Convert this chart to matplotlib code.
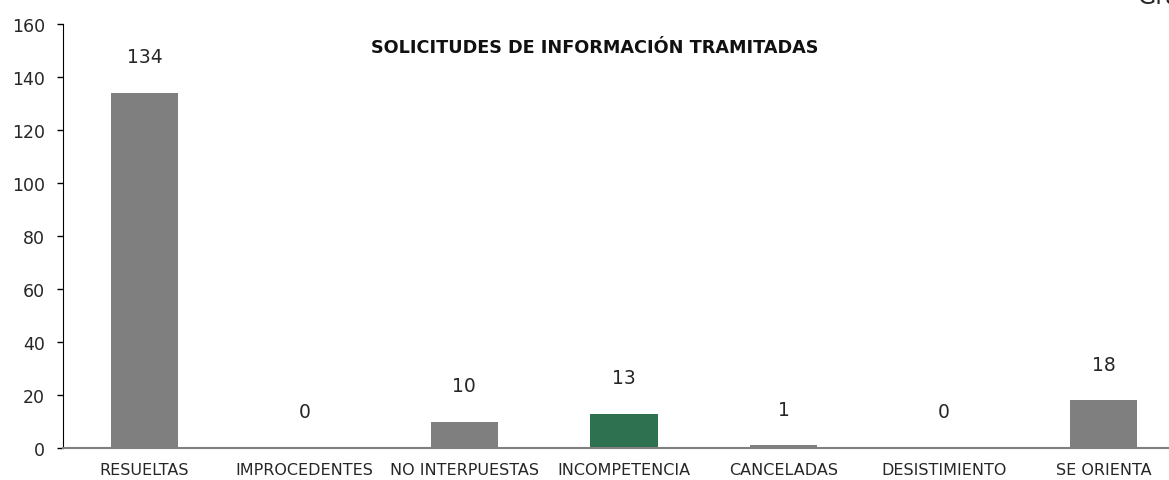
import matplotlib
matplotlib.use("Agg")
import matplotlib.pyplot as plt

categories = ["RESUELTAS", "IMPROCEDENTES", "NO INTERPUESTAS", "INCOMPETENCIA",
              "CANCELADAS", "DESISTIMIENTO", "SE ORIENTA"]
values = [134, 0, 10, 13, 1, 0, 18]
bar_colors = ["#7f7f7f", "#7f7f7f", "#7f7f7f", "#2e7150", "#7f7f7f", "#7f7f7f", "#7f7f7f"]
yticks = [0, 20, 40, 60, 80, 100, 120, 140, 160]

plt.rcParams["font.family"] = ["DejaVu Sans"]
text_color = "#262626"

W, H = 1169, 481
fig = plt.figure(figsize=(W / 100, H / 100), dpi=100)
left, right, bottom, top = 63, 1185, 449, 25
ax = fig.add_axes([left / W, 1 - bottom / H, (right - left) / W, (bottom - top) / H])

x = list(range(len(categories)))
ax.bar(x, values, width=0.42, color=bar_colors, zorder=2)

for xi, v in zip(x, values):
    ax.annotate(str(v), (xi, v), xytext=(0, 22), textcoords="offset points",
                ha="center", va="baseline", fontsize=13.5, color=text_color)

ax.set_xlim(-0.51, 6.51)
ax.set_ylim(0, 160)
ax.set_yticks(yticks)
ax.set_xticks(x)
ax.set_xticklabels(categories, fontsize=11.5, color=text_color)
ax.tick_params(axis="x", length=0, pad=10)
ax.tick_params(axis="y", labelsize=12.5, labelcolor=text_color, length=4,
               width=1, direction="out", pad=9)

for s in ("top", "right"):
    ax.spines[s].set_visible(False)
ax.spines["left"].set_color("#000000")
ax.spines["bottom"].set_color("#808080")
ax.spines["bottom"].set_linewidth(1.5)

fig.text(595 / W, 1 - 48 / H, "SOLICITUDES DE INFORMACIÓN TRAMITADAS",
         ha="center", va="center", fontsize=12.7, fontweight="bold", color="#111111")
fig.text(1138 / W, 1 - 4.5 / H, "Gráfica", ha="left", va="baseline",
         fontsize=17, color=text_color)

fig.savefig("out.png", dpi=100, facecolor="white")
